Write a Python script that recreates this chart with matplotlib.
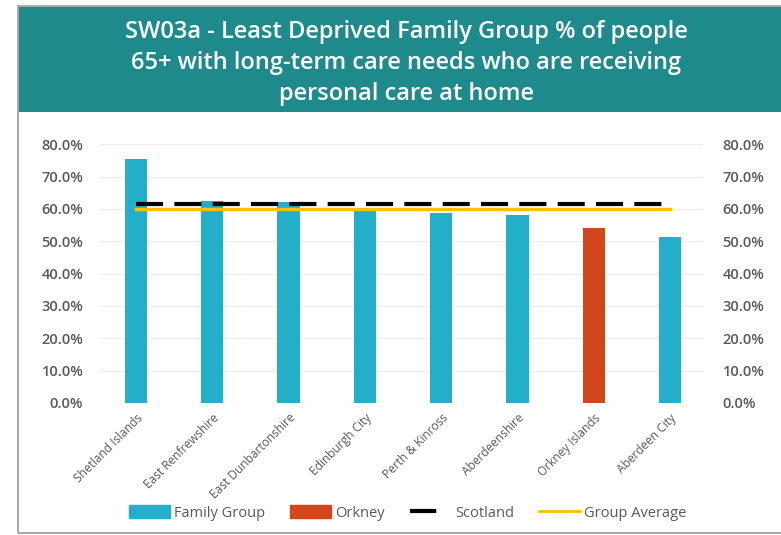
import matplotlib.pyplot as plt
import matplotlib.patches as patches
from matplotlib.lines import Line2D
from matplotlib.ticker import PercentFormatter

# ─── Dati ─────────────────────────────────────────────────────────────────────

aree = ["Shetland Islands", "East Renfrewshire", "East Dunbartonshire",
        "Edinburgh City", "Perth & Kinross", "Aberdeenshire",
        "Orkney Islands", "Aberdeen City"]
valori = [75.4, 62.6, 62.2, 59.5, 58.8, 58.2, 54.0, 51.2]
scotland = [61.4] * len(aree)
media_gruppo = [60.1] * len(aree)
evidenzia = "Orkney Islands"

TEAL = "#23AFC9"
ARANCIO = "#D2461C"
GIALLO = "#FFC000"
BANNER = "#1E8A8C"
GRIGIO_TXT = "#595959"
TRATTEGGIO = (0, (6.5, 2.7))

plt.rcParams["font.family"] = ["Open Sans", "DejaVu Sans"]

fig = plt.figure(figsize=(7.81, 5.35), dpi=100)

# cornice e banner del titolo
fig.patches.append(patches.Rectangle((18 / 781, 0.003), 1, 1 - 6 / 535 - 0.003,
                                     transform=fig.transFigure, fill=False,
                                     edgecolor="#9a9a9a", lw=1.2))
fig.patches.append(patches.Rectangle((19 / 781, 1 - 112 / 535), 1, (112 - 7) / 535,
                                     transform=fig.transFigure,
                                     facecolor=BANNER, edgecolor="none"))
fig.text(0.52, 1 - 63 / 535,
         "SW03a - Least Deprived Family Group % of people\n"
         "65+ with long-term care needs who are receiving\n"
         "personal care at home",
         ha="center", va="center", color="white", fontsize=17,
         fontweight="semibold", linespacing=1.4)

ax = fig.add_axes([100 / 781, 1 - 403 / 535, 603 / 781, (403 - 144.3) / 535])

x = range(len(aree))
colori = [ARANCIO if a == evidenzia else TEAL for a in aree]
ax.bar(x, valori, width=0.29, color=colori, zorder=2)
ax.plot(x, media_gruppo, color=GIALLO, lw=2.5, zorder=3)
ax.plot(x, scotland, color="black", lw=3, ls=TRATTEGGIO, zorder=4)

ax.set_xlim(-0.47, 7.43)
ax.set_ylim(0, 80)
ax.set_yticks(range(0, 81, 10))
ax.yaxis.set_major_formatter(PercentFormatter(decimals=1))
ax.grid(axis="y", color="#ececec", lw=0.8, zorder=0)
ax.set_axisbelow(True)
for s in ax.spines.values():
    s.set_visible(False)
ax.tick_params(axis="both", length=0, colors=GRIGIO_TXT)
ax.tick_params(axis="y", labelsize=10.5, pad=12)
for t in ax.get_yticklabels():
    t.set_fontweight("semibold")

ax.set_xticks(list(x))
ax.set_xticklabels(aree, rotation=45, ha="right", rotation_mode="anchor",
                   fontsize=8.6, color=GRIGIO_TXT)
ax.tick_params(axis="x", pad=6)

ax2 = ax.twinx()
ax2.set_ylim(ax.get_ylim())
ax2.set_yticks(range(0, 81, 10))
ax2.yaxis.set_major_formatter(PercentFormatter(decimals=1))
for s in ax2.spines.values():
    s.set_visible(False)
ax2.tick_params(axis="y", length=0, colors=GRIGIO_TXT, labelsize=10.5, pad=14)
for t in ax2.get_yticklabels():
    t.set_fontweight("semibold")

handles = [patches.Patch(color=TEAL), patches.Patch(color=ARANCIO),
           Line2D([], [], color="black", lw=3, ls=(0, (6.3, 20))),
           Line2D([], [], color=GIALLO, lw=2)]
fig.legend(handles, ["Family Group", "Orkney", "Scotland", "Group Average"],
           loc="center", bbox_to_anchor=(0.522, 1 - 513 / 535), ncol=4,
           frameon=False, fontsize=10.5, labelcolor=GRIGIO_TXT,
           handlelength=2.8, handleheight=0.9, columnspacing=1.7,
           handletextpad=0.3)

fig.savefig("out.png", dpi=100)
